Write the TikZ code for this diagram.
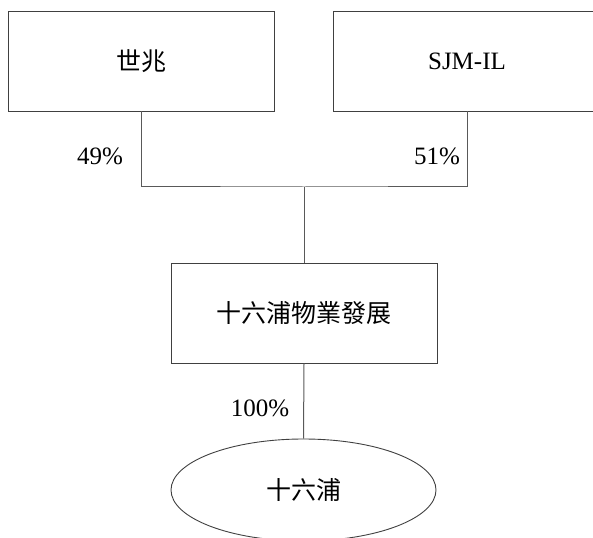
\documentclass[tikz,border=0pt]{standalone}
\usepackage{fontspec}
\setmainfont{Liberation Serif}
\newfontfamily\cjk{Noto Sans CJK TC}
\usetikzlibrary{shapes.geometric}
\begin{document}
\begin{tikzpicture}[x=1pt,y=-1pt,
  boxst/.style={draw=black!75,line width=0.9pt,rectangle,minimum width=266pt,minimum height=100pt,inner sep=0pt,font=\fontsize{25}{28}\selectfont},
  ellst/.style={draw=black!75,line width=0.9pt,ellipse,minimum width=265pt,minimum height=102pt,inner sep=0pt,font=\fontsize{25}{28}\selectfont},
  conn/.style={draw=black!65,line width=1pt},
  lab/.style={font=\fontsize{25}{28}\selectfont,inner sep=0pt}]
\useasboundingbox (0,0) rectangle (593,537);
\clip (0,0) rectangle (593,537);
\node[boxst] (b1) at (141,61) {\cjk 世兆};
\node[boxst,minimum width=268pt] (b2) at (467,61) {SJM-IL};
\node[boxst] (b3) at (304,313) {\cjk 十六浦物業發展};
\node[ellst] (e) at (303.5,490) {\cjk 十六浦};
\coordinate (m) at (304,187);
\draw[conn] (b1.south) |- (m) -| (b2.south);
\draw[conn] (m) -- (b3.north);
\draw[conn] (b3.south) -- (e.north);
\node[lab] (l1) at (100,156) {49\%};
\node[lab] (l2) at (437,156) {51\%};
\node[lab] (l3) at (260,408) {100\%};
\end{tikzpicture}
\end{document}
